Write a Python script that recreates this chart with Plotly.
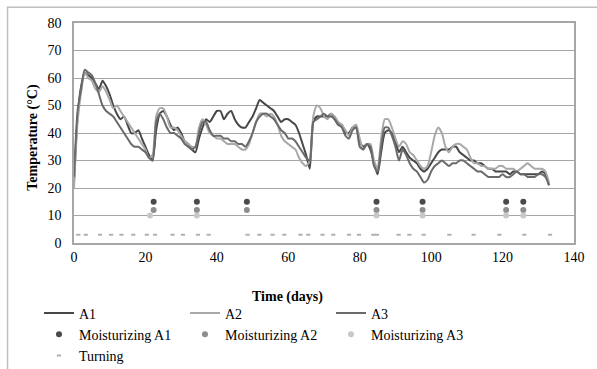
import plotly.graph_objects as go

days = list(range(0, 134))

a1 = [22, 46, 57, 62, 61, 60, 58, 56, 59, 57, 54, 50, 47, 45, 46, 43, 40, 40, 41, 38,
      35, 32, 30, 41, 47, 48, 46, 43, 41, 42, 40, 37, 36, 34, 33, 38, 42, 45, 44, 46,
      48, 48, 45, 47, 48, 45, 43, 42, 42, 44, 46, 49, 52, 51, 50, 49, 48, 46, 44, 45,
      45, 44, 43, 40, 36, 32, 27, 44, 46, 46, 46, 46, 47, 45, 43, 43, 40, 40, 42, 42,
      37, 35, 36, 34, 29, 25, 33, 40, 41, 40, 37, 33, 35, 33, 31, 30, 29, 27, 26, 27,
      29, 31, 33, 34, 34, 34, 35, 35, 33, 32, 31, 30, 30, 29, 29, 28, 27, 27, 26, 26,
      26, 26, 25, 26, 26, 25, 25, 25, 25, 25, 25, 26, 25, 21]

a2 = [20, 44, 55, 62, 60, 59, 56, 55, 57, 55, 52, 49, 50, 48, 46, 44, 42, 40, 38, 36,
      34, 31, 32, 46, 49, 49, 46, 42, 42, 41, 39, 37, 36, 35, 35, 42, 45, 43, 40, 39,
      38, 38, 37, 36, 36, 36, 35, 34, 34, 36, 40, 44, 47, 47, 46, 47, 46, 43, 39, 37,
      36, 35, 34, 31, 29, 28, 30, 46, 50, 49, 46, 45, 47, 46, 44, 43, 41, 39, 42, 43,
      38, 34, 36, 36, 30, 27, 38, 45, 45, 42, 38, 35, 37, 36, 33, 32, 30, 28, 27, 28,
      33, 39, 42, 40, 35, 33, 35, 36, 36, 35, 34, 31, 29, 29, 28, 28, 27, 27, 27, 28,
      28, 27, 27, 27, 26, 27, 28, 29, 28, 27, 27, 27, 26, 22]

a3 = [24, 48, 56, 63, 62, 61, 58, 54, 50, 48, 47, 46, 44, 42, 40, 38, 36, 35, 35, 34,
      33, 31, 30, 44, 47, 45, 42, 40, 40, 39, 38, 36, 35, 34, 35, 40, 44, 44, 41, 39,
      39, 39, 38, 38, 37, 37, 36, 36, 35, 37, 40, 44, 46, 47, 47, 46, 45, 43, 41, 40,
      38, 38, 37, 35, 33, 31, 30, 44, 45, 46, 47, 46, 46, 45, 43, 42, 39, 38, 41, 42,
      35, 34, 36, 35, 28, 26, 35, 42, 42, 39, 35, 30, 34, 32, 29, 27, 26, 24, 22, 23,
      26, 28, 29, 30, 29, 28, 29, 29, 30, 30, 29, 28, 27, 26, 26, 25, 24, 24, 24, 24,
      25, 24, 24, 25, 26, 25, 25, 24, 24, 24, 25, 25, 24, 21]

moist_a1_days = [22.3, 34.4, 48.4, 84.7, 97.6, 121.0, 125.8]
moist_a1_vals = [15, 15, 15, 15, 15, 15, 15]
moist_a2_days = [22.3, 34.4, 48.4, 84.7, 97.6, 121.0, 125.8]
moist_a2_vals = [12, 12, 12, 12, 12, 12, 12]
moist_a3_days = [21.3, 34.4, 84.7, 97.6, 121.0, 125.8]
moist_a3_vals = [10, 10, 10, 10, 10, 10]

turning_days = [1.2, 3.3, 7.3, 10.4, 13.3, 16.6, 20.4, 22.7, 27.6, 30.5, 34.7, 37.7,
                48.6, 51.9, 55.6, 58.9, 63.4, 65.6, 69.6, 72.6, 77.0, 79.8, 83.8, 84.8,
                90.9, 93.9, 97.9, 105.1, 111.9, 119.1, 126.1, 133.3]
turning_vals = [3] * len(turning_days)

x_ticks = [0, 20, 40, 60, 80, 100, 120, 140]
y_ticks = [0, 10, 20, 30, 40, 50, 60, 70, 80]

FONT = "Liberation Serif"
GRID = "#a6a6a6"

fig = go.Figure()
fig.add_trace(go.Scatter(x=days, y=a1, mode="lines", name="A1",
                         line=dict(color="#474747", width=2, shape="spline", smoothing=0.6)))
fig.add_trace(go.Scatter(x=days, y=a2, mode="lines", name="A2",
                         line=dict(color="#a8a8a8", width=2, shape="spline", smoothing=0.6)))
fig.add_trace(go.Scatter(x=days, y=a3, mode="lines", name="A3",
                         line=dict(color="#6a6a6a", width=2, shape="spline", smoothing=0.6)))
fig.add_trace(go.Scatter(x=moist_a1_days, y=moist_a1_vals, mode="markers", name="Moisturizing A1",
                         marker=dict(color="#4a4a4a", size=6)))
fig.add_trace(go.Scatter(x=moist_a2_days, y=moist_a2_vals, mode="markers", name="Moisturizing A2",
                         marker=dict(color="#8e8e8e", size=6)))
fig.add_trace(go.Scatter(x=moist_a3_days, y=moist_a3_vals, mode="markers", name="Moisturizing A3",
                         marker=dict(color="#c8c8c8", size=6)))
fig.add_trace(go.Scatter(x=turning_days, y=turning_vals, mode="markers", name="Turning",
                         marker=dict(symbol="line-ew", size=3, color="#b0b0b0",
                                     line=dict(color="#b0b0b0", width=2))))

# outer chart frame
fig.add_shape(type="rect", xref="paper", yref="paper",
              x0=-0.1329, x1=1.06, y0=-0.62, y1=1.0714,
              line=dict(color="#bfbfbf", width=1.5), fillcolor="rgba(0,0,0,0)", layer="below")

fig.add_annotation(text="<b>Time (days)</b>", xref="paper", yref="paper",
                   x=0.4266, y=-0.247, showarrow=False, xanchor="center", yanchor="middle",
                   font=dict(family=FONT, size=14, color="#000"))
fig.add_annotation(text="<b>Temperature (°C)</b>", xref="paper", yref="paper",
                   x=-0.0813, y=0.48, showarrow=False, textangle=-90,
                   xanchor="center", yanchor="middle",
                   font=dict(family=FONT, size=14, color="#000"))

fig.update_layout(
    width=597, height=369,
    margin=dict(l=74, r=19, t=23, b=126),
    paper_bgcolor="white", plot_bgcolor="white",
    font=dict(family=FONT, size=14, color="#000"),
    showlegend=True,
    legend=dict(orientation="h", xref="container", yref="container",
                x=0.0653, xanchor="left", y=0.1938, yanchor="top",
                entrywidth=101, entrywidthmode="pixels", tracegroupgap=0,
                font=dict(family=FONT, size=14, color="#000"), itemwidth=30,
                bgcolor="rgba(0,0,0,0)"),
    xaxis=dict(range=[0, 140], tickvals=x_ticks, showgrid=False, zeroline=False,
               showline=True, linecolor=GRID, linewidth=1.5, mirror=True,
               ticks="", tickfont=dict(family=FONT, size=14)),
    yaxis=dict(range=[0, 80], tickvals=y_ticks, showgrid=True, gridcolor=GRID, gridwidth=1,
               zeroline=False, showline=True, linecolor=GRID, linewidth=1.5, mirror=True,
               ticks="", ticklabelstandoff=8, tickfont=dict(family=FONT, size=14)),
)

fig.write_html("out.html", config={"displayModeBar": False},
               post_script="document.body.style.margin='0';")
